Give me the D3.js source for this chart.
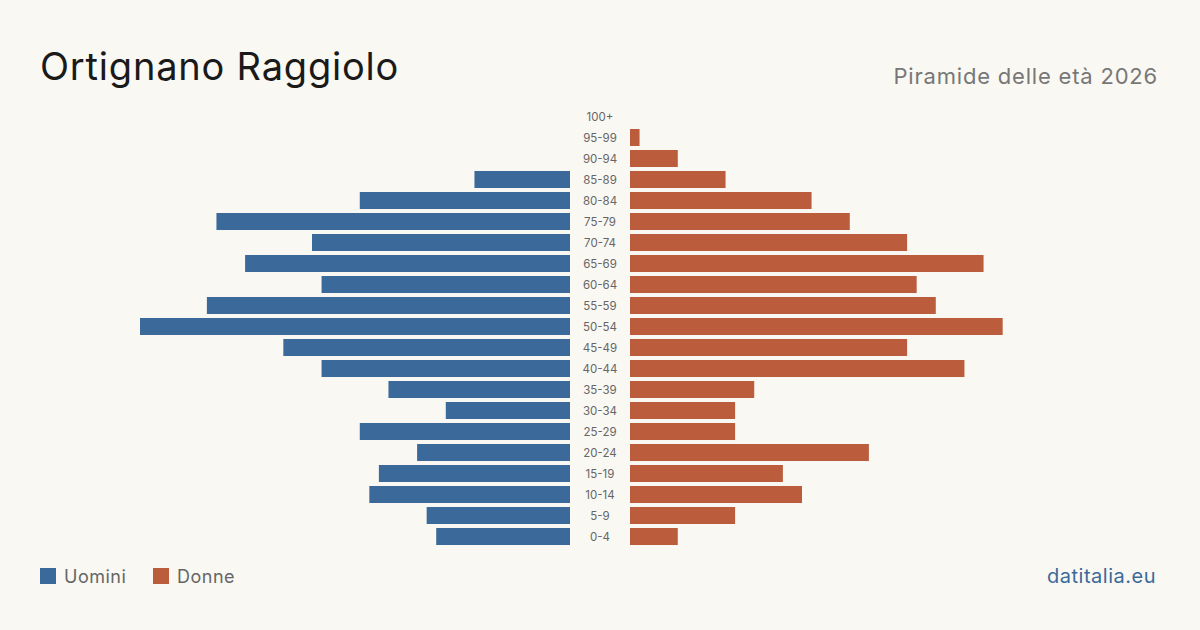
<!DOCTYPE html>
<html><head><meta charset="utf-8">
<script src="https://cdn.jsdelivr.net/npm/d3@7"></script>
<style>body{margin:0;background:#faf8f3}</style></head>
<body><svg id="c" width="1200" height="630"></svg>
<script>
const ages=["100+","95-99","90-94","85-89","80-84","75-79","70-74","65-69","60-64","55-59","50-54","45-49","40-44","35-39","30-34","25-29","20-24","15-19","10-14","5-9","0-4"];
const men=[0,0,0,20,44,74,54,68,52,76,90,60,52,38,26,44,32,40,42,30,28];
const women=[0,2,10,20,38,46,58,74,60,64,78,58,70,26,22,22,50,32,36,22,10];
const svg=d3.select("#c");
const F="Inter, sans-serif";
svg.append("rect").attr("width",1200).attr("height",630).attr("fill","#faf8f3");
svg.append("text").attr("x",40).attr("y",80).attr("font-family",F).attr("font-size",38).attr("letter-spacing",0.8).attr("fill","#1a1a1a").text("Ortignano Raggiolo");
svg.append("text").attr("x",1158).attr("y",84).attr("text-anchor","end").attr("font-family",F).attr("font-size",22).attr("letter-spacing",0.8).attr("fill","#777").text("Piramide delle età 2026");
const y=d3.scaleBand().domain(ages).range([106,547]).paddingInner(0.19).paddingOuter(0.095);
const x=d3.scaleLinear().domain([0,90]).range([0,430]);
svg.selectAll(".m").data(ages).join("rect").attr("x",(d,i)=>570-x(men[i])).attr("y",d=>y(d)).attr("width",(d,i)=>x(men[i])).attr("height",y.bandwidth()).attr("fill","#3b6a9a");
svg.selectAll(".w").data(ages).join("rect").attr("x",630).attr("y",d=>y(d)).attr("width",(d,i)=>x(women[i])).attr("height",y.bandwidth()).attr("fill","#bb5c3c");
svg.selectAll(".l").data(ages).join("text").attr("x",600).attr("y",d=>y(d)+y.bandwidth()/2+4).attr("text-anchor","middle").attr("font-family",F).attr("font-size",11.5).attr("fill","#666").text(d=>d);
[["Uomini","#3b6a9a",40],["Donne","#bb5c3c",153]].forEach(([t,c,px])=>{
svg.append("rect").attr("x",px).attr("y",568).attr("width",16).attr("height",16).attr("fill",c);
svg.append("text").attr("x",px+24).attr("y",583).attr("font-family",F).attr("font-size",18).attr("letter-spacing",0.5).attr("fill","#666").text(t);});
svg.append("text").attr("x",1156).attr("y",583).attr("text-anchor","end").attr("font-family",F).attr("font-size",20).attr("letter-spacing",0.5).attr("fill","#3b6a9a").text("datitalia.eu");
</script></body></html>
